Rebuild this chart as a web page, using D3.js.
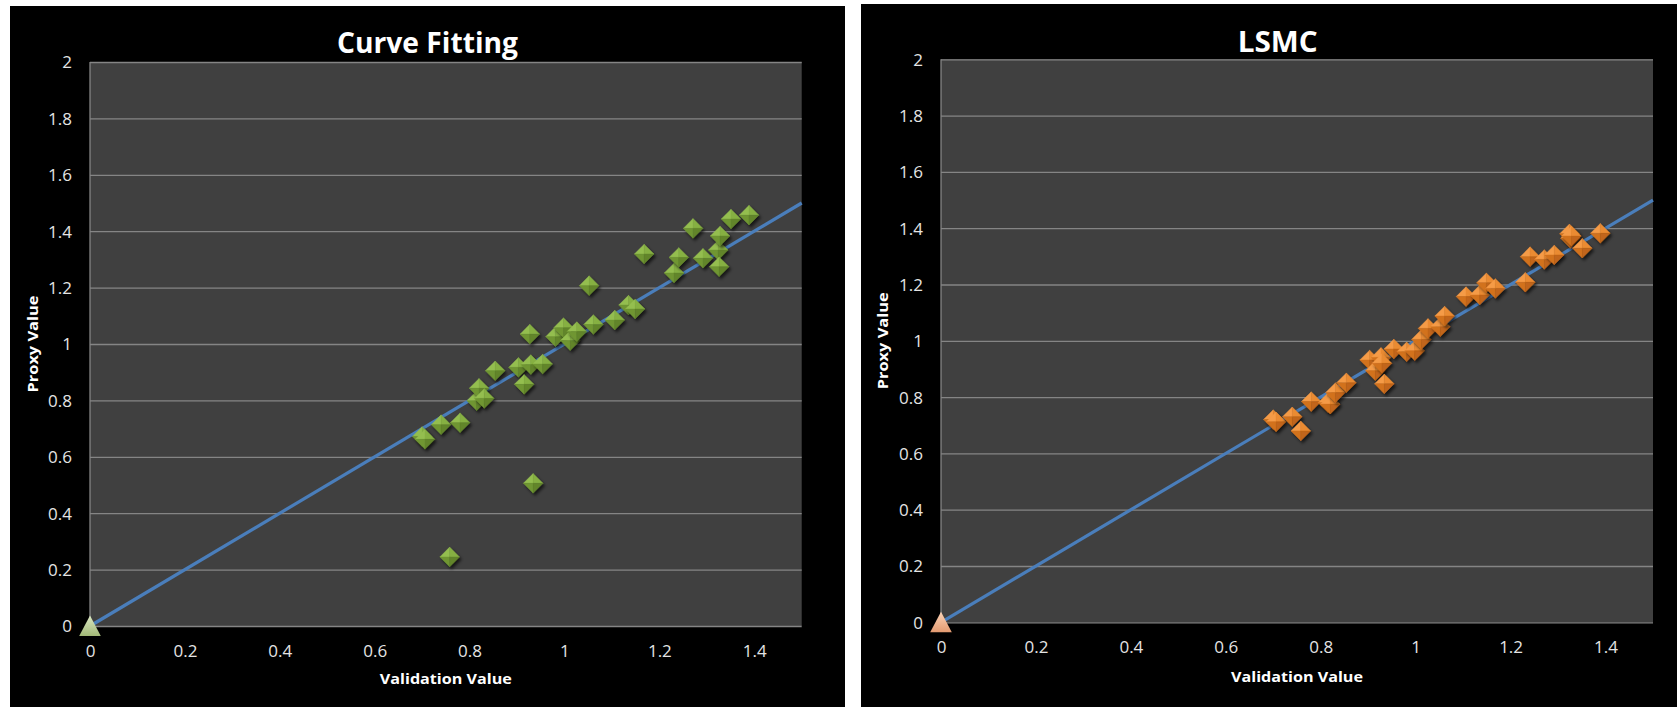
<!DOCTYPE html>
<html>
<head>
<meta charset="utf-8">
<script src="https://cdn.jsdelivr.net/npm/d3@7"></script>
<style>
  html, body { margin: 0; padding: 0; background: #ffffff; }
  svg { display: block; }
</style>
</head>
<body>
<svg id="chart" width="1677" height="707"></svg>
<script>
// Validation values shared by both proxy methods
const validationValue = [0.700, 0.706, 0.740, 0.758, 0.780, 0.815, 0.820, 0.831, 0.854, 0.903,
  0.915, 0.927, 0.929, 0.934, 0.954, 0.981, 0.998, 1.012, 1.026, 1.052,
  1.061, 1.106, 1.135, 1.149, 1.168, 1.231, 1.241, 1.271, 1.292, 1.324,
  1.326, 1.328, 1.351, 1.389];

// Proxy values from the curve fitting model
const curveFittingProxy = [0.672, 0.662, 0.714, 0.245, 0.721, 0.799, 0.843, 0.807, 0.905, 0.917,
  0.857, 1.035, 0.927, 0.506, 0.929, 1.026, 1.058, 1.012, 1.044, 1.207,
  1.069, 1.085, 1.138, 1.124, 1.319, 1.252, 1.307, 1.410, 1.304, 1.333,
  1.274, 1.383, 1.443, 1.457];

// Proxy values from least squares Monte Carlo
const lsmcProxy = [0.720, 0.712, 0.730, 0.680, 0.784, 0.780, 0.775, 0.816, 0.851, 0.932,
  0.894, 0.941, 0.920, 0.847, 0.971, 0.961, 0.965, 1.005, 1.044, 1.050,
  1.088, 1.157, 1.163, 1.206, 1.186, 1.208, 1.299, 1.289, 1.305, 1.380,
  1.364, 1.372, 1.329, 1.382];

// Reference line y = x and the origin marker
const refLineX = [0, 1.5];
const refLineY = [0, 1.5];
const originX = [0];
const originY = [0];

const xTicks = [0, 0.2, 0.4, 0.6, 0.8, 1, 1.2, 1.4];
const yTicks = [0, 0.2, 0.4, 0.6, 0.8, 1, 1.2, 1.4, 1.6, 1.8, 2];
const xDomain = [0, 1.5];
const yDomain = [0, 2];

const svg = d3.select("#chart");
const defs = svg.append("defs");

const shadow = defs.append("filter").attr("id", "markerShadow")
  .attr("x", "-50%").attr("y", "-50%").attr("width", "200%").attr("height", "200%");
shadow.append("feDropShadow").attr("dx", 2).attr("dy", 2.5)
  .attr("stdDeviation", 1.6).attr("flood-color", "#000").attr("flood-opacity", 0.65);

function triGradient(id, top, bottom) {
  const g = defs.append("linearGradient").attr("id", id)
    .attr("x1", 0).attr("y1", 0).attr("x2", 0).attr("y2", 1);
  g.append("stop").attr("offset", "0%").attr("stop-color", top);
  g.append("stop").attr("offset", "100%").attr("stop-color", bottom);
}
triGradient("triGreen", "#dbe7c3", "#a2b977");
triGradient("triOrange", "#fcd3b6", "#e39a70");

const fmt = d => d3.format("")(+d.toFixed(1));

function drawPanel(cfg) {
  const g = svg.append("g");

  // chart area
  g.append("rect").attr("x", cfg.panel[0]).attr("y", cfg.panel[1])
    .attr("width", cfg.panel[2]).attr("height", cfg.panel[3]).attr("fill", "#000");

  const x = d3.scaleLinear().domain(xDomain).range([cfg.plot.left, cfg.plot.right]);
  const y = d3.scaleLinear().domain(yDomain).range([cfg.plot.bottom, cfg.plot.top]);

  // plot area
  g.append("rect").attr("x", cfg.plot.left).attr("y", cfg.plot.top)
    .attr("width", cfg.plot.right - cfg.plot.left)
    .attr("height", cfg.plot.bottom - cfg.plot.top).attr("fill", "#404040");

  // horizontal gridlines
  g.append("g").attr("transform", `translate(${cfg.plot.left},0)`)
    .call(d3.axisLeft(y).tickValues(yTicks).tickSize(-(cfg.plot.right - cfg.plot.left)).tickFormat(""))
    .call(a => a.select(".domain").remove())
    .call(a => a.selectAll(".tick line").attr("stroke", "#858585").attr("stroke-width", 1.3));

  // vertical axis line
  g.append("line").attr("x1", cfg.plot.left).attr("x2", cfg.plot.left)
    .attr("y1", cfg.plot.top).attr("y2", cfg.plot.bottom)
    .attr("stroke", "#858585").attr("stroke-width", 1.3);

  // y tick labels
  g.append("g").attr("transform", `translate(${cfg.plot.left - 18},0)`)
    .call(d3.axisLeft(y).tickValues(yTicks).tickSize(0).tickPadding(0).tickFormat(fmt))
    .call(a => a.select(".domain").remove())
    .call(a => a.selectAll("text").attr("fill", "#e4e4e4")
      .attr("font-family", "'Open Sans', sans-serif").attr("font-size", 17)
      .attr("text-anchor", "end").attr("dy", "0.35em").attr("x", 0));

  // x tick labels
  g.append("g").attr("transform", `translate(0,${cfg.plot.bottom + 25})`)
    .call(d3.axisBottom(x).tickValues(xTicks).tickSize(0).tickPadding(0).tickFormat(fmt))
    .call(a => a.select(".domain").remove())
    .call(a => a.selectAll("text").attr("fill", "#e4e4e4")
      .attr("font-family", "'Open Sans', sans-serif").attr("font-size", 17)
      .attr("y", 0).attr("dy", "0.35em"));

  // reference line
  const line = d3.line().x(d => x(d[0])).y(d => y(d[1]));
  g.append("path").datum(d3.zip(refLineX, refLineY)).attr("d", line)
    .attr("fill", "none").attr("stroke", "#4a7ebb").attr("stroke-width", 3.2);

  // origin marker
  g.selectAll(".origin").data(d3.zip(originX, originY)).join("path")
    .attr("class", "origin")
    .attr("transform", d => `translate(${x(d[0])},${y(d[1])})`)
    .attr("d", "M0,-10.5L10.8,10L-10.8,10Z")
    .attr("fill", `url(#${cfg.triGrad})`);

  // scatter markers (bevelled diamonds)
  const r = 9.8;
  const pts = g.selectAll(".pt").data(d3.zip(validationValue, cfg.values)).join("g")
    .attr("class", "pt")
    .attr("transform", d => `translate(${x(d[0])},${y(d[1])})`)
    .attr("filter", "url(#markerShadow)");
  const facets = [
    [`M0,${-r}L${-r},0L0,0Z`, cfg.colors[0]],
    [`M0,${-r}L${r},0L0,0Z`, cfg.colors[1]],
    [`M${-r},0L0,${r}L0,0Z`, cfg.colors[2]],
    [`M${r},0L0,${r}L0,0Z`, cfg.colors[3]]
  ];
  facets.forEach(([d, c]) => pts.append("path").attr("d", d).attr("fill", c)
    .attr("stroke", c).attr("stroke-width", 0.4));

  // titles
  g.append("text").attr("x", cfg.titleX).attr("y", cfg.titleY)
    .attr("text-anchor", "middle").attr("fill", "#fff")
    .attr("font-family", "'Open Sans', sans-serif").attr("font-weight", "bold")
    .attr("font-size", 29).attr("textLength", cfg.titleLen).attr("lengthAdjust", "spacingAndGlyphs")
    .text(cfg.title);

  g.append("text").attr("x", (cfg.plot.left + cfg.plot.right) / 2).attr("y", cfg.xTitleY)
    .attr("text-anchor", "middle").attr("dy", "0.35em").attr("fill", "#fff")
    .attr("font-family", "'Open Sans', sans-serif").attr("font-weight", "bold")
    .attr("font-size", 15).attr("textLength", 132).attr("lengthAdjust", "spacingAndGlyphs")
    .text("Validation Value");

  g.append("text")
    .attr("transform", `translate(${cfg.yTitleX},${(cfg.plot.top + cfg.plot.bottom) / 2}) rotate(-90)`)
    .attr("text-anchor", "middle").attr("dy", "0.35em").attr("fill", "#fff")
    .attr("font-family", "'Open Sans', sans-serif").attr("font-weight", "bold")
    .attr("font-size", 15).attr("textLength", 97).attr("lengthAdjust", "spacingAndGlyphs")
    .text("Proxy Value");
}

drawPanel({
  panel: [10, 6, 835, 701],
  plot: { left: 90, right: 801.7, top: 62, bottom: 626 },
  values: curveFittingProxy,
  colors: ["#94be50", "#86b043", "#6f9633", "#62852b"],
  triGrad: "triGreen",
  title: "Curve Fitting", titleX: 427.5, titleY: 52.7, titleLen: 181,
  xTitleY: 678.5, yTitleX: 32.5
});

drawPanel({
  panel: [861, 4, 816, 703],
  plot: { left: 941, right: 1653, top: 59.3, bottom: 622.3 },
  values: lsmcProxy,
  colors: ["#f59b46", "#ea8b33", "#d2721f", "#c1651a"],
  triGrad: "triOrange",
  title: "LSMC", titleX: 1277.7, titleY: 51.8, titleLen: 80,
  xTitleY: 676.3, yTitleX: 882.7
});
</script>
</body>
</html>
